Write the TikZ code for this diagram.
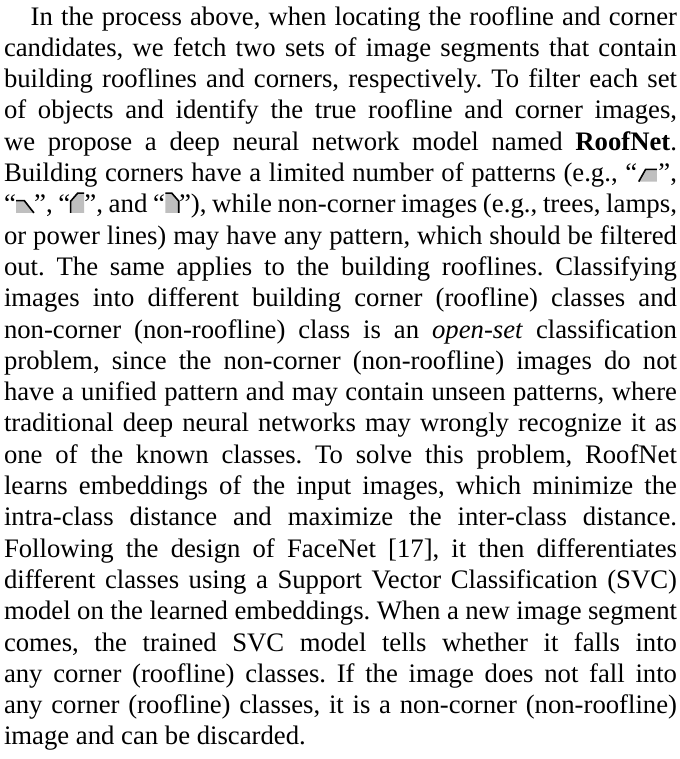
\documentclass[tikz,border=0pt]{standalone}
\usepackage{graphicx}
\usepackage{fontspec}
\setmainfont{Liberation Serif}
\tikzset{
  glyphfill/.style={fill=gray!50},
  glyphline/.style={draw=black, line width=0.6pt, line join=miter, line cap=butt},
  paratext/.style={anchor=base west, inner sep=0pt, outer sep=0pt, text width=252pt, align=justify,
    font=\fontsize{10pt}{11.72pt}\selectfont}
}
% small corner pattern glyphs
\newcommand\gA{\tikz[baseline=0pt,x=1pt,y=1pt]{\fill[glyphfill] (0,0)--(2.6,4.6)--(6.8,4.6)--(6.8,0)--cycle; \draw[glyphline] (0,0)--(2.6,4.6)--(6.8,4.6);}}
\newcommand\gB{\tikz[baseline=0pt,x=1pt,y=1pt]{\fill[glyphfill] (0,0)--(0,4.6)--(3,4.6)--(6.6,0)--cycle; \draw[glyphline] (0,4.6)--(3,4.6)--(6.6,0);}}
\newcommand\gC{\tikz[baseline=0pt,x=1pt,y=1pt]{\fill[glyphfill] (0,0)--(0,4.4)--(2.6,7.4)--(5,7.4)--(5,0)--cycle; \draw[glyphline] (0,0)--(0,4.4)--(2.6,7.4)--(5,7.4);}}
\newcommand\gD{\tikz[baseline=0pt,x=1pt,y=1pt]{\fill[glyphfill] (0,0)--(0,7.4)--(2.4,7.4)--(5,4.4)--(5,0)--cycle; \draw[glyphline] (0,7.4)--(2.4,7.4)--(5,4.4)--(5,0);}}
\begin{document}
\begin{tikzpicture}
\useasboundingbox (0,0) rectangle (254.25pt,284.2pt);
\fill[white] (0,0) rectangle (254.25pt,284.2pt);
\node[paratext] (para) at (1.5pt,274.8pt) {\frenchspacing\hyphenpenalty=10000\exhyphenpenalty=10000%
\hspace*{10pt}In the process above, when locating the roofline and corner\linebreak
candidates, we fetch two sets of image segments that contain\linebreak
building rooflines and corners, respectively. To filter each set\linebreak
of objects and identify the true roofline and corner images,\linebreak
we propose a deep neural network model named \textbf{RoofNet}.\linebreak
Building corners have a limited number of patterns (e.g., “\kern0.3pt\gA\kern0.3pt”,\linebreak
\resizebox{\hsize}{\height}{\spaceskip=2.1pt plus 1pt minus 0.3pt\relax “\kern-0.2pt\gB\kern-0.2pt”, “\kern-0.2pt\gC\kern-0.2pt”, and “\kern-0.2pt\gD\kern-0.2pt”), while non-corner images (e.g., trees, lamps,}\linebreak
or power lines) may have any pattern, which should be filtered\linebreak
out. The same applies to the building rooflines. Classifying\linebreak
images into different building corner (roofline) classes and\linebreak
non-corner (non-roofline) class is an \textit{open-set} classification\linebreak
problem, since the non-corner (non-roofline) images do not\linebreak
have a unified pattern and may contain unseen patterns, where\linebreak
traditional deep neural networks may wrongly recognize it as\linebreak
one of the known classes. To solve this problem, RoofNet\linebreak
learns embeddings of the input images, which minimize the\linebreak
intra-class distance and maximize the inter-class distance.\linebreak
Following the design of FaceNet [17], it then differentiates\linebreak
different classes using a Support Vector Classification (SVC)\linebreak
model on the learned embeddings. When a new image segment\linebreak
comes, the trained SVC model tells whether it falls into\linebreak
any corner (roofline) classes. If the image does not fall into\linebreak
any corner (roofline) classes, it is a non-corner (non-roofline)\linebreak
image and can be discarded.};
\end{tikzpicture}
\end{document}
